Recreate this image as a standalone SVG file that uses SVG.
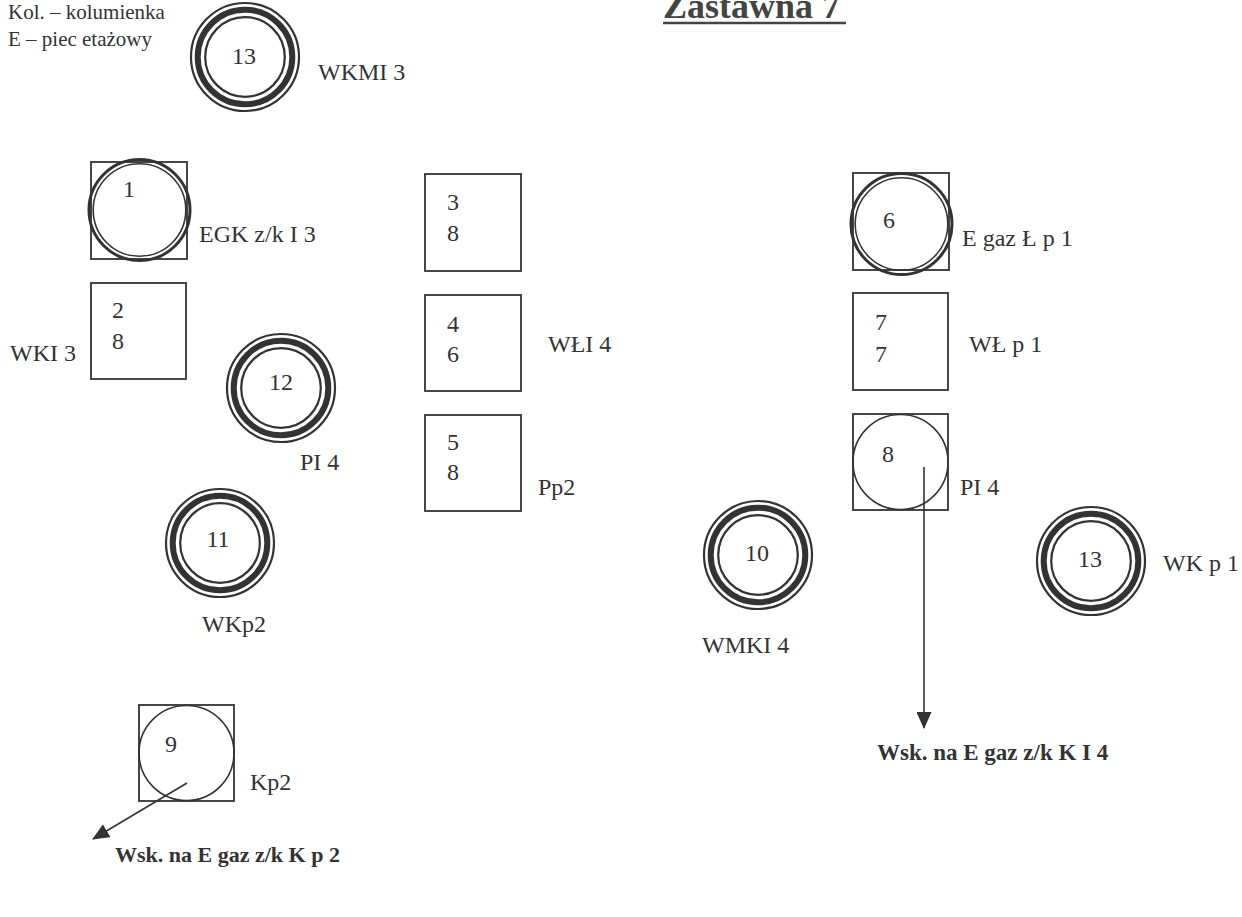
<svg xmlns="http://www.w3.org/2000/svg" width="1242" height="917" viewBox="0 0 1242 917">
<style>
text{font-family:"Liberation Serif","Times New Roman",serif;fill:#333}
.t{font-size:24px}
.lg{font-size:21px}
.b{font-size:23px;font-weight:bold}
.b2{font-size:22px;font-weight:bold}
.ttl{font-size:36px;font-weight:bold;fill:#444}
.sq{fill:none;stroke:#333;stroke-width:1.8}
.thin{fill:none;stroke:#333;stroke-width:1.6}
.r1{fill:none;stroke:#333;stroke-width:2.2}
.r2{fill:none;stroke:#333;stroke-width:6}
.d1{fill:none;stroke:#333;stroke-width:3}
.d2{fill:none;stroke:#333;stroke-width:1.6}
.ln{stroke:#333;stroke-width:1.6;fill:none}
</style>
<defs>
<marker id="ah" markerWidth="17" markerHeight="15" refX="16" refY="7.5" orient="auto" markerUnits="userSpaceOnUse" viewBox="0 0 17 15">
<path d="M0,0 L17,7.5 L0,15 Z" fill="#333"/>
</marker>
<g id="ring">
<circle r="54" class="r1"/>
<circle r="47.3" class="r2"/>
<circle r="39.8" class="r1"/>
</g>
</defs>
<g id="title">
<text x="663" y="18" class="ttl">Zastawna  7</text>
<line x1="663" y1="23" x2="846" y2="23" stroke="#444" stroke-width="2.5"/>
</g>
<g id="legend">
<text x="8" y="19" class="lg">Kol. – kolumienka</text>
<text x="8" y="46" class="lg">E – piec etażowy</text>
</g>
<g id="n13a">
<use href="#ring" x="245" y="57"/>
<text x="244" y="64" class="t" text-anchor="middle">13</text>
<text x="318" y="80" class="t">WKMI 3</text>
</g>
<g id="n1">
<rect x="91" y="162" width="96" height="97" class="sq"/>
<circle cx="139.5" cy="210" r="50.5" class="d1"/>
<circle cx="139.5" cy="210" r="46.3" class="d2"/>
<text x="129" y="197" class="t" text-anchor="middle">1</text>
<text x="199" y="242" class="t">EGK z/k I 3</text>
</g>
<g id="n2">
<rect x="91" y="283" width="95" height="96" class="sq"/>
<text x="112" y="318" class="t">2</text>
<text x="112" y="349" class="t">8</text>
<text x="10" y="361" class="t">WKI 3</text>
</g>
<g id="n3">
<rect x="425" y="174" width="96" height="97" class="sq"/>
<text x="447" y="210" class="t">3</text>
<text x="447" y="241" class="t">8</text>
</g>
<g id="n4">
<rect x="425" y="295" width="96" height="96" class="sq"/>
<text x="447" y="332" class="t">4</text>
<text x="447" y="362" class="t">6</text>
<text x="548" y="352" class="t">WŁI 4</text>
</g>
<g id="n5">
<rect x="425" y="415" width="96" height="96" class="sq"/>
<text x="447" y="450" class="t">5</text>
<text x="447" y="480" class="t">8</text>
<text x="538" y="495" class="t">Pp2</text>
</g>
<g id="n6">
<rect x="853" y="173" width="96" height="97" class="sq"/>
<circle cx="901.5" cy="224" r="50.5" class="d1"/>
<circle cx="901.5" cy="224" r="46.3" class="d2"/>
<text x="889" y="228" class="t" text-anchor="middle">6</text>
<text x="962" y="246" class="t">E gaz Ł p 1</text>
</g>
<g id="n7">
<rect x="853" y="293" width="95" height="97" class="sq"/>
<text x="875" y="330" class="t">7</text>
<text x="875" y="362" class="t">7</text>
<text x="969" y="352" class="t">WŁ p 1</text>
</g>
<g id="n8">
<rect x="853" y="414" width="95" height="96" class="sq"/>
<circle cx="900.5" cy="462" r="47.5" class="thin"/>
<text x="888" y="462" class="t" text-anchor="middle">8</text>
<text x="960" y="495" class="t">PI 4</text>
</g>
<g id="n12">
<use href="#ring" x="281" y="388"/>
<text x="281" y="390" class="t" text-anchor="middle">12</text>
<text x="300" y="470" class="t">PI 4</text>
</g>
<g id="n11">
<use href="#ring" x="220" y="543"/>
<text x="218" y="547" class="t" text-anchor="middle">11</text>
<text x="202" y="632" class="t">WKp2</text>
</g>
<g id="n10">
<use href="#ring" x="758" y="555"/>
<text x="757" y="561" class="t" text-anchor="middle">10</text>
<text x="702" y="653" class="t">WMKI 4</text>
</g>
<g id="n13b">
<use href="#ring" x="1091" y="561"/>
<text x="1090" y="567" class="t" text-anchor="middle">13</text>
<text x="1163" y="571" class="t">WK p 1</text>
</g>
<g id="n9">
<rect x="139" y="705" width="95" height="96" class="sq"/>
<circle cx="186.5" cy="753" r="47.5" class="thin"/>
<text x="171" y="752" class="t" text-anchor="middle">9</text>
<text x="250" y="790" class="t">Kp2</text>
</g>
<g id="connectors">
<line x1="924" y1="467" x2="924" y2="728" class="ln" marker-end="url(#ah)"/>
<line x1="187" y1="783" x2="93" y2="839" class="ln" marker-end="url(#ah)"/>
</g>
<g id="notes">
<text x="877" y="760" class="b">Wsk. na E gaz z/k K I 4</text>
<text x="115" y="862" class="b2">Wsk. na E gaz z/k  K p 2</text>
</g>
</svg>
